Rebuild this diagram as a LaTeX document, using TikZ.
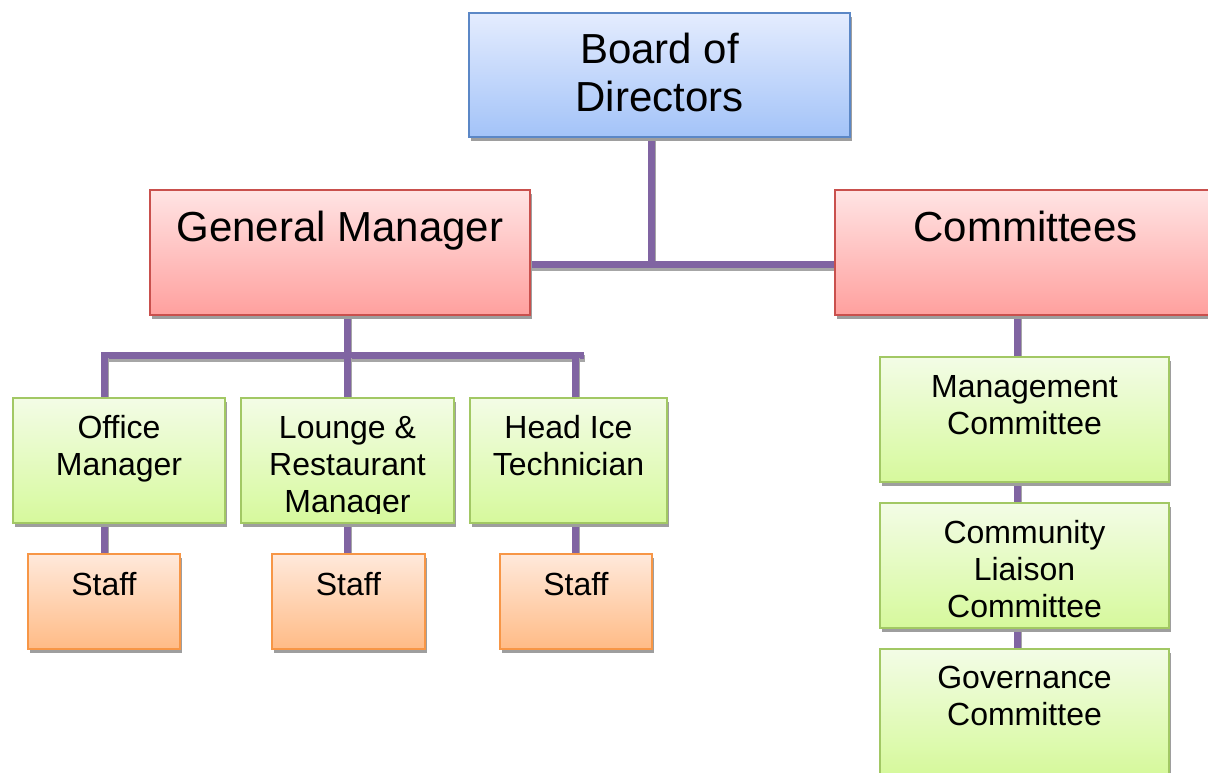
\documentclass[tikz,border=0pt]{standalone}
\usepackage{fontspec}
\setmainfont{Liberation Sans}
\usetikzlibrary{shadows,calc}
\definecolor{connc}{HTML}{8064A2}
\definecolor{blueB}{HTML}{5B87C6}
\definecolor{blueT}{HTML}{E4ECFE}
\definecolor{blueD}{HTML}{A3C3F8}
\definecolor{redB}{HTML}{C9504D}
\definecolor{redT}{HTML}{FFE4E4}
\definecolor{redD}{HTML}{FFA09E}
\definecolor{greenB}{HTML}{A2C864}
\definecolor{greenT}{HTML}{F3FCE6}
\definecolor{greenD}{HTML}{D6F99C}
\definecolor{orB}{HTML}{F79646}
\definecolor{orT}{HTML}{FFE9DB}
\definecolor{orD}{HTML}{FFBB86}
\pgfdeclarelayer{bg}
\pgfsetlayers{bg,main}
\begin{document}
\begin{tikzpicture}[x=1pt,y=-1pt,
  box/.style={draw, line width=2pt, inner sep=0pt, anchor=north west,
    drop shadow={shadow xshift=2pt, shadow yshift=-4pt, fill=black!38, opacity=1}},
  bluebox/.style={box, draw=blueB, top color=blueT, bottom color=blueD},
  redbox/.style={box, draw=redB, top color=redT, bottom color=redD},
  greenbox/.style={box, draw=greenB, top color=greenT, bottom color=greenD},
  orbox/.style={box, draw=orB, top color=orT, bottom color=orD},
  conn/.style={draw=connc, line width=7pt,
    preaction={draw=black!35, line width=7pt, transform canvas={xshift=1pt,yshift=-3pt}}},
  bigtxt/.style={font=\fontsize{42}{48}\selectfont, align=center, anchor=base, inner sep=0pt},
  smalltxt/.style={font=\fontsize{32}{37}\selectfont, align=center, anchor=base, inner sep=0pt}]
\useasboundingbox (0,0) rectangle (1208,772);
% boxes
\node[bluebox, minimum width=381, minimum height=124] (board) at (468,12) {};
\node[redbox, minimum width=380, minimum height=125] (gm) at (149,189) {};
\node[redbox, minimum width=381, minimum height=125] (com) at (834,189) {};
\node[greenbox, minimum width=212, minimum height=125] (om) at (12,397) {};
\node[greenbox, minimum width=213, minimum height=125] (lr) at (240,397) {};
\node[greenbox, minimum width=197, minimum height=125] (hi) at (469,397) {};
\node[orbox, minimum width=152, minimum height=95] (s1) at (27,553) {};
\node[orbox, minimum width=153, minimum height=95] (s2) at (271,553) {};
\node[orbox, minimum width=152, minimum height=95] (s3) at (499,553) {};
\node[greenbox, minimum width=289, minimum height=125] (mc) at (879,356) {};
\node[greenbox, minimum width=289, minimum height=125] (cl) at (879,502) {};
\node[greenbox, minimum width=289, minimum height=125] (gc) at (879,648) {};
% texts (anchor base = baseline of last line)
\node[bigtxt] (boardt) at ([yshift=-99pt]board.north) {Board of\\Directors};
\node[bigtxt] (gmt) at ([yshift=-52pt]gm.north) {General Manager};
\node[bigtxt] (comt) at ([yshift=-52pt]com.north) {Committees};
\node[smalltxt] (omt) at ([yshift=-78pt]om.north) {Office\\Manager};
\begin{scope}
\clip (238,395) rectangle (455,513);
\node[smalltxt] (lrt) at ([yshift=-115pt]lr.north) {Lounge \&\\Restaurant\\Manager};
\end{scope}
\node[smalltxt] (hit) at ([yshift=-78pt]hi.north) {Head Ice\\Technician};
\node[smalltxt] (s1t) at ([yshift=-42pt]s1.north) {Staff};
\node[smalltxt] (s2t) at ([yshift=-42pt]s2.north) {Staff};
\node[smalltxt] (s3t) at ([yshift=-42pt]s3.north) {Staff};
\node[smalltxt] (mct) at ([yshift=-78pt]mc.north) {Management\\Committee};
\node[smalltxt] (clt) at ([yshift=-115pt]cl.north) {Community\\Liaison\\Committee};
\node[smalltxt] (gct) at ([yshift=-77pt]gc.north) {Governance\\Committee};
% connectors
\coordinate (j0) at (651,264);
\coordinate (barL) at (101,355);
\coordinate (barR) at (584,355);
\coordinate (cOM) at (104,355);
\coordinate (cLR) at (347,355);
\coordinate (cHI) at (575,355);
\coordinate (cR) at (1017,314);
\begin{pgfonlayer}{bg}
\draw[conn] (board.south -| j0) -- (j0);
\draw[conn] (gm.east |- j0) -- (com.west |- j0);
\draw[conn] (gm.south -| cLR) -- (cLR);
\draw[conn] (barL) -- (barR);
\draw[conn] (cOM) -- (om.north -| cOM);
\draw[conn] (cLR) -- (lr.north -| cLR);
\draw[conn] (cHI) -- (hi.north -| cHI);
\draw[conn] (om.south -| cOM) -- (s1.north -| cOM);
\draw[conn] (lr.south -| cLR) -- (s2.north -| cLR);
\draw[conn] (hi.south -| cHI) -- (s3.north -| cHI);
\draw[conn] (com.south -| cR) -- (mc.north -| cR);
\draw[conn] (mc.south -| cR) -- (cl.north -| cR);
\draw[conn] (cl.south -| cR) -- (gc.north -| cR);
\end{pgfonlayer}
\end{tikzpicture}
\end{document}
